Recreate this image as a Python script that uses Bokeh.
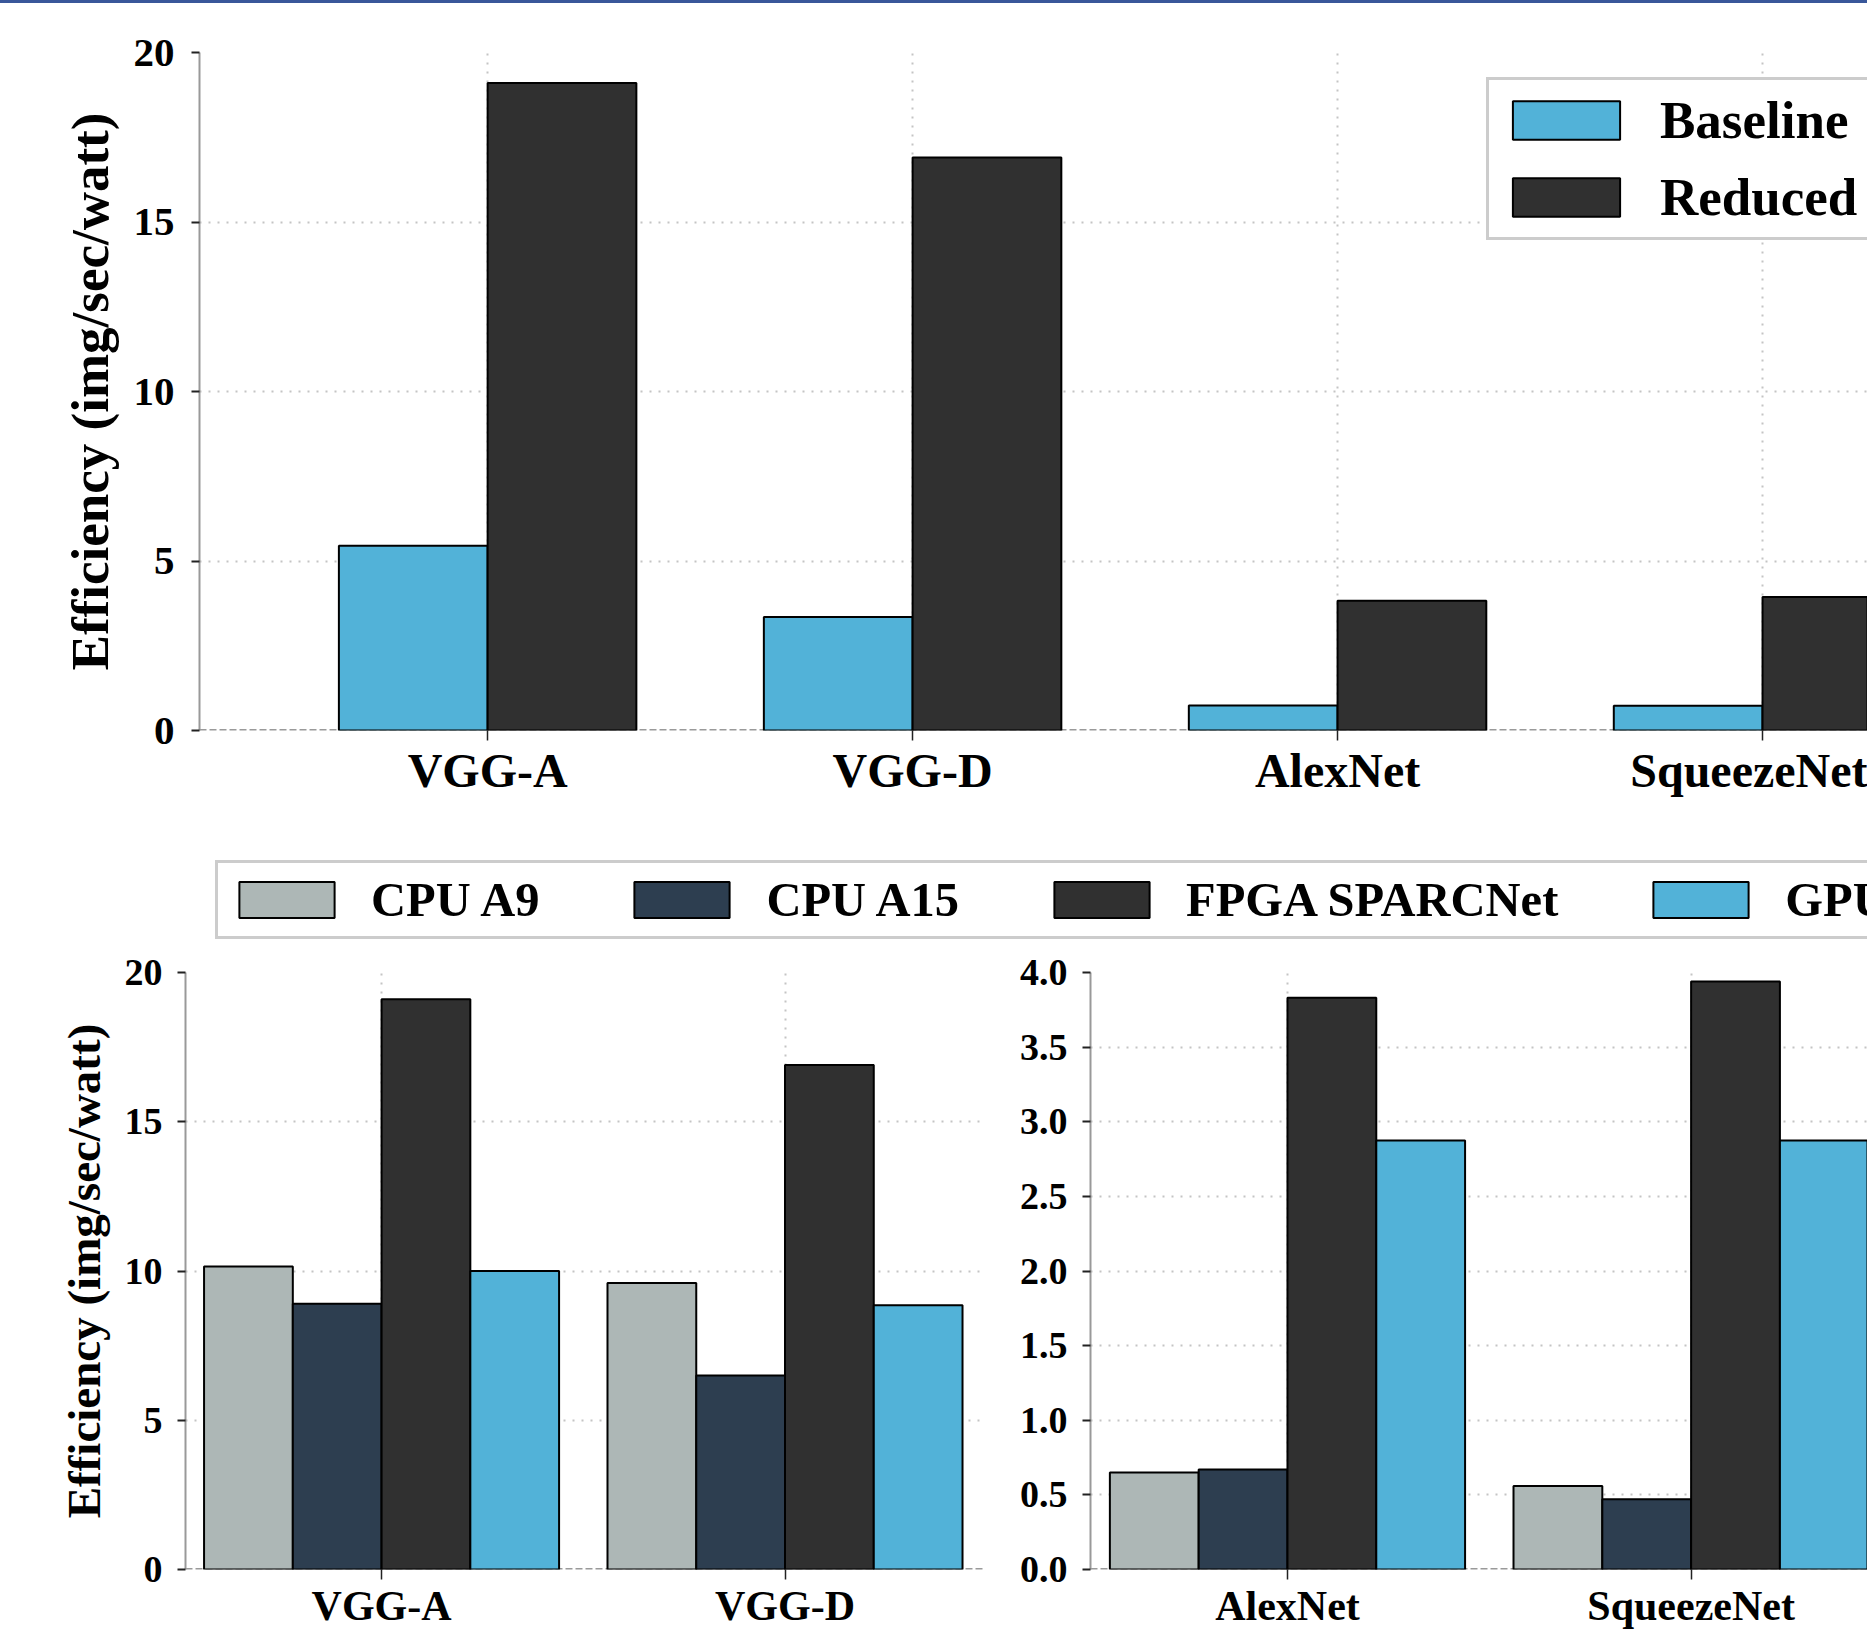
from bokeh.plotting import figure
from bokeh.models import Range1d, FixedTicker, Legend, LegendItem, Span, NumeralTickFormatter, Div
from bokeh.layouts import column, row
from bokeh.embed import file_html
from bokeh.resources import INLINE

# ---------------- data ----------------
top_categories = ["VGG-A", "VGG-D", "AlexNet", "SqueezeNet"]
top_series = ["Baseline", "Reduced"]
baseline = [5.45, 3.35, 0.74, 0.73]
reduced = [19.1, 16.9, 3.83, 3.94]

left_categories = ["VGG-A", "VGG-D"]
right_categories = ["AlexNet", "SqueezeNet"]
series_names = ["CPU A9", "CPU A15", "FPGA SPARCNet", "GPU"]
cpu_a9_left = [10.15, 9.6]
cpu_a15_left = [8.9, 6.5]
fpga_left = [19.1, 16.9]
gpu_left = [10.0, 8.85]
cpu_a9_right = [0.65, 0.56]
cpu_a15_right = [0.67, 0.47]
fpga_right = [3.83, 3.94]
gpu_right = [2.875, 2.875]

top_yticks = [0, 5, 10, 15, 20]
left_yticks = [0, 5, 10, 15, 20]
right_yticks = [0.0, 0.5, 1.0, 1.5, 2.0, 2.5, 3.0, 3.5, 4.0]

# ---------------- styles ----------------
FONT = "Liberation Serif"
BLUE = "#52b2d8"
DARK = "#303030"
A9 = "#adb7b6"
A15 = "#2d3e50"
series_colors = [A9, A15, DARK, BLUE]
top_colors = [BLUE, DARK]


def style(p, cats, yticks, tick_size, cat_size, tick_standoff, ylabel=None, ylabel_size=None):
    p.outline_line_color = None
    p.background_fill_color = "white"
    p.border_fill_color = "white"
    xa = p.xaxis[0]
    xa.ticker = FixedTicker(ticks=list(range(len(cats))))
    xa.major_label_overrides = {i: c for i, c in enumerate(cats)}
    xa.axis_line_color = None
    xa.major_tick_out = 10
    xa.major_tick_in = 0
    xa.major_tick_line_color = "#222222"
    xa.major_tick_line_width = 1.5
    xa.minor_tick_line_color = None
    xa.major_label_standoff = 3
    xa.major_label_text_font = FONT
    xa.major_label_text_font_style = "bold"
    xa.major_label_text_font_size = f"{cat_size}px"
    xa.major_label_text_color = "black"
    ya = p.yaxis[0]
    ya.ticker = FixedTicker(ticks=yticks)
    ya.axis_line_color = "#999999"
    ya.axis_line_width = 2
    ya.major_tick_out = 8
    ya.major_tick_in = 0
    ya.major_tick_line_color = "#222222"
    ya.major_tick_line_width = 2
    ya.minor_tick_line_color = None
    ya.major_label_standoff = tick_standoff
    ya.major_label_text_font = FONT
    ya.major_label_text_font_style = "bold"
    ya.major_label_text_font_size = f"{tick_size}px"
    ya.major_label_text_color = "black"
    if ylabel:
        ya.axis_label = ylabel
        ya.axis_label_text_font = FONT
        ya.axis_label_text_font_style = "bold"
        ya.axis_label_text_font_size = f"{ylabel_size}px"
        ya.axis_label_text_color = "black"
        ya.axis_label_standoff = 12
    for g in (p.xgrid[0], p.ygrid[0]):
        g.grid_line_color = "#c4c4c4"
        g.grid_line_width = 2
        g.grid_line_dash = "2 7"
    p.add_layout(Span(location=0, dimension="width", line_color="#9a9a9a",
                      line_width=3, line_dash="7 3", level="underlay"))


# ---------------- top rule ----------------
rule = Div(text="", width=1867, height=3, margin=0,
           styles={"background-color": "#39579a"})

# ---------------- top chart ----------------
top = figure(width=1867, height=817, x_range=Range1d(-0.678, 3.247), y_range=Range1d(0, 20),
             output_backend="svg", toolbar_location=None,
             min_border_left=199, min_border_right=0, min_border_top=49, min_border_bottom=90)
style(top, top_categories, top_yticks, 41, 48, 17, "Efficiency (img/sec/watt)", 53)
bw_top = 0.35
top_vals = [baseline, reduced]
top_renderers = []
for k, vals in enumerate(top_vals):
    off = (k - 0.5) * bw_top
    xs = [i + off for i in range(len(top_categories))]
    r = top.vbar(x=xs, top=vals, bottom=0, width=bw_top, fill_color=top_colors[k],
                 line_color="black", line_width=2)
    top_renderers.append(r)
top_legend = Legend(items=[LegendItem(label=n, renderers=[r]) for n, r in zip(top_series, top_renderers)],
                    location=(1287, 490), orientation="vertical",
                    glyph_width=134, glyph_height=48, label_standoff=27, spacing=17, padding=10,
                    label_text_font=FONT, label_text_font_style="bold", label_text_font_size="53px",
                    label_text_color="black", border_line_color="#999999", border_line_width=3,
                    background_fill_color="white", background_fill_alpha=1.0)
top.add_layout(top_legend)

# ---------------- legend strip ----------------
leg = figure(width=1867, height=125, x_range=Range1d(-0.5, 1.5), y_range=Range1d(0, 20),
             output_backend="svg", toolbar_location=None, x_axis_location=None, y_axis_location=None,
             min_border_left=199, min_border_right=0, min_border_top=0, min_border_bottom=0)
leg.outline_line_color = None
leg.xgrid.visible = False
leg.ygrid.visible = False
left_vals = [cpu_a9_left, cpu_a15_left, fpga_left, gpu_left]
leg_renderers = []
for k, vals in enumerate(left_vals):
    r = leg.vbar(x=list(range(len(left_categories))), top=vals, width=0.2, fill_color=series_colors[k],
                 line_color="black", line_width=2, visible=False)
    leg_renderers.append(r)
strip_legend = Legend(items=[LegendItem(label=n, renderers=[r]) for n, r in zip(series_names, leg_renderers)],
                      location=(16, 6), orientation="horizontal",
                      glyph_width=119, glyph_height=45, label_standoff=25, spacing=83, padding=9,
                      label_text_font=FONT, label_text_font_style="bold", label_text_font_size="48.5px",
                      label_text_color="black", border_line_color="#999999", border_line_width=3,
                      background_fill_color="white", background_fill_alpha=1.0)
leg.add_layout(strip_legend)

# ---------------- bottom charts ----------------
bw = 0.22


def grouped(p, vals_list):
    n = len(vals_list)
    for k, vals in enumerate(vals_list):
        off = (k - (n - 1) / 2) * bw
        xs = [i + off for i in range(len(vals))]
        p.vbar(x=xs, top=vals, bottom=0, width=bw, fill_color=series_colors[k],
               line_color="black", line_width=2)


bl = figure(width=1000, height=686, x_range=Range1d(-0.486, 1.492), y_range=Range1d(0, 20),
            output_backend="svg", toolbar_location=None,
            min_border_left=185, min_border_right=17, min_border_top=27, min_border_bottom=0)
style(bl, left_categories, left_yticks, 38, 42, 15, "Efficiency (img/sec/watt)", 47)
grouped(bl, left_vals)

br = figure(width=867, height=686, x_range=Range1d(-0.488, 1.437), y_range=Range1d(0, 4),
            output_backend="svg", toolbar_location=None,
            min_border_left=90, min_border_right=0, min_border_top=27, min_border_bottom=0)
style(br, right_categories, right_yticks, 38, 42, 15)
br.yaxis[0].formatter = NumeralTickFormatter(format="0.0")
grouped(br, [cpu_a9_right, cpu_a15_right, fpga_right, gpu_right])

layout = column(rule, top, leg, row(bl, br, spacing=0), spacing=0)
open("out.html", "w").write(file_html(layout, INLINE))
